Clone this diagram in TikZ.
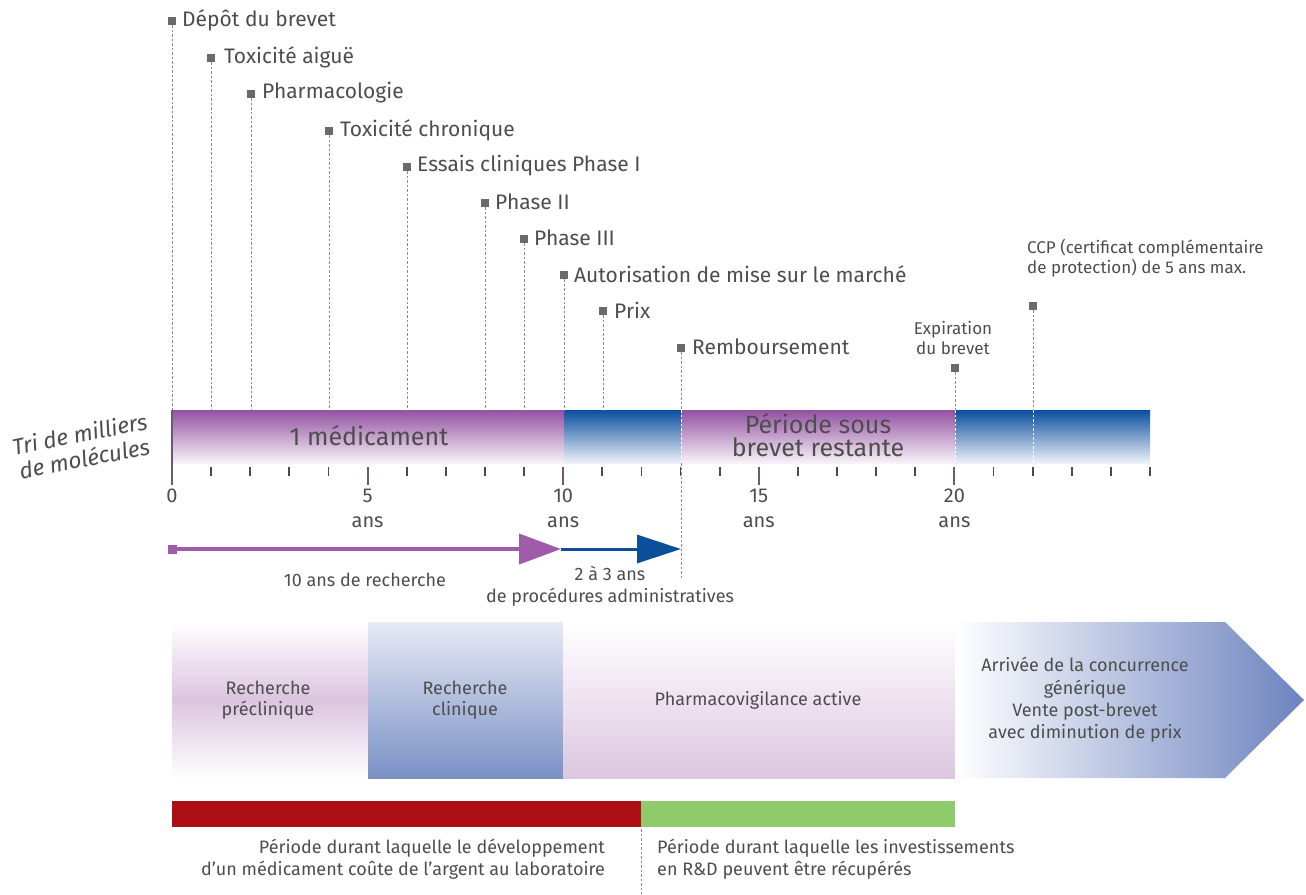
\documentclass[tikz,border=0pt]{standalone}
\usepackage{fontspec}
\setmainfont{Fira Sans}
\usetikzlibrary{arrows.meta}
\definecolor{txt}{HTML}{4D4D4D}
\definecolor{mkgrey}{HTML}{6A6A6A}
\definecolor{dashgrey}{HTML}{8A8A8A}
\definecolor{purtop}{HTML}{9252A1}
\definecolor{purbot}{HTML}{F8F2F9}
\definecolor{bluetop}{HTML}{0A4F9E}
\definecolor{bluebot}{HTML}{EEF2F9}
\definecolor{tickc}{HTML}{4A4A4A}
\definecolor{bigtick}{HTML}{6E5873}
\definecolor{arrpur}{HTML}{A05BAB}
\definecolor{arrblue}{HTML}{0B4F9B}
\definecolor{boxpur}{HTML}{DCC4DF}
\definecolor{boxbluetop}{HTML}{E6EAF4}
\definecolor{boxbluebot}{HTML}{7A91C6}
\definecolor{boxpink}{HTML}{DCC6E0}
\definecolor{arrowbox}{HTML}{6C83BF}
\definecolor{redbar}{HTML}{AE0E16}
\definecolor{greenbar}{HTML}{8FCB6A}
\tikzset{
  lab/.style={anchor=west, inner sep=0pt, font=\fontsize{21}{24}\selectfont},
  mk/.style={fill=mkgrey, minimum size=8pt, inner sep=0pt},
  dl/.style={draw=dashgrey, dash pattern=on 2.5pt off 2pt, line width=1pt},
  wdl/.style={draw=white, dash pattern=on 2.5pt off 2pt, line width=1pt},
  small/.style={inner sep=0pt, align=center, font=\fontsize{17}{19.5}\selectfont},
  mid/.style={inner sep=0pt, align=center, font=\fontsize{18}{21.5}\selectfont},
  yr/.style={inner sep=0pt, font=\fontsize{20}{22}\selectfont},
  big/.style={inner sep=0pt, align=center, font=\fontsize{25}{22.5}\selectfont},
  tri/.style={inner sep=0pt, align=center, rotate=11, font=\fontsize{22.5}{25}\selectfont\itshape},
}
\begin{document}
\begin{tikzpicture}[x=1pt,y=-1pt,text=txt]
\useasboundingbox (0,0) rectangle (1306,894);

% ---- main bar ----
\shade[top color=purtop, bottom color=purbot] (172,410) rectangle (564,463);
\shade[top color=bluetop, bottom color=bluebot] (564,410) rectangle (681,463);
\shade[top color=purtop, bottom color=purbot] (681,410) rectangle (955,463);
\shade[top color=bluetop, bottom color=bluebot] (955,410) rectangle (1150,463);
\draw[bigtick, line width=2pt] (172,410) -- (172,485);

\node[big] (med) at (369,436) {1 médicament};
\node[big] (pbr) at (818,435) {Période sous\\brevet restante};
\node[tri] (tri) at (82,446) {Tri de milliers\\de molécules};

% ---- ticks ----
\foreach \t in {1,...,25}{
  \pgfmathsetmacro\xx{172+39.12*\t}
  \draw[tickc, line width=1.8pt] (\xx,467) -- (\xx,476);
}
\foreach \t in {5,10,15,20}{
  \pgfmathsetmacro\xx{172+39.12*\t}
  \draw[bigtick, line width=2pt] (\xx,467) -- (\xx,485);
  \node[yr] (y\t) at (\xx,496) {\t};
  \node[yr] (a\t) at (\xx,522) {ans};
}
\node[yr] (y0) at (172,496) {0};

% ---- milestones ----
\node[mk] (m0) at (172,21) {};   \node[lab] (l0) at (182,20) {Dépôt du brevet};
\node[mk] (m1) at (211,58) {};   \node[lab] (l1) at (224,57) {Toxicité aiguë};
\node[mk] (m2) at (251,94) {};   \node[lab] (l2) at (262,93) {Pharmacologie};
\node[mk] (m4) at (329,131) {};  \node[lab] (l4) at (340,130) {Toxicité chronique};
\node[mk] (m6) at (407,167) {};  \node[lab] (l6) at (417,166) {Essais cliniques Phase I};
\node[mk] (m8) at (485,203) {};  \node[lab] (l8) at (495,202) {Phase II};
\node[mk] (m9) at (524,239) {};  \node[lab] (l9) at (534,238) {Phase III};
\node[mk] (m10) at (564,275) {}; \node[lab] (l10) at (574,274) {Autorisation de mise sur le marché};
\node[mk] (m11) at (603,311) {}; \node[lab] (l11) at (614,310) {Prix};
\node[mk] (m13) at (681,348) {}; \node[lab] (l13) at (692,347) {Remboursement};
\node[mk] (m20) at (955,368) {};
\node[small] (l20) at (953,338) {Expiration\\du brevet};
\node[mk] (m22) at (1033,306) {};
\node[small, anchor=north west, align=left] (l22) at (1027,239) {CCP (certificat complémentaire\\de protection) de 5 ans max.};

\foreach \m/\x in {m0/172,m1/211,m2/251,m4/329,m6/407,m8/485,m9/524,m10/564,m11/603,m13/681,m20/955,m22/1033}{
  \coordinate (b\m) at (\x,410);
  \draw[dl] (\m) -- (b\m);
}
\coordinate (t13) at (681,463);
\coordinate (e13) at (681,580);
\coordinate (t20) at (955,463);
\coordinate (t22) at (1033,463);
\draw[wdl] (bm13) -- (t13);
\draw[wdl] (bm20) -- (t20);
\draw[wdl] (bm22) -- (t22);
\draw[dl] (t13) -- (e13);

% ---- arrows ----
\node[fill=arrpur, minimum size=9pt, inner sep=0pt] (as) at (172,549) {};
\coordinate (a10) at (561,549);
\coordinate (a13) at (681,549);
\draw[arrpur, line width=4pt, -{Triangle[length=42pt,width=30pt]}] (as.center) -- (a10);
\draw[arrblue, line width=3pt, -{Triangle[length=44pt,width=28pt]}] (a10) -- (a13);
\node[mid] (rech) at (365,580) {10 ans de recherche};
\node[mid] (adm) at (610,586) {2 à 3 ans\\de procédures administratives};

% ---- lower boxes ----
\shade[top color=white, bottom color=white, middle color=boxpur] (172,622) rectangle (368,778);
\shade[top color=boxbluetop, bottom color=boxbluebot] (368,622) rectangle (563,778);
\shade[top color=white, bottom color=boxpink] (563,622) rectangle (955,778);
\shade[left color=white, right color=arrowbox] (955,622) -- (1225,622) -- (1304,700) -- (1225,778) -- (955,778) -- cycle;
\node[mid] (b1) at (268,700) {Recherche\\préclinique};
\node[mid] (b2) at (465,700) {Recherche\\clinique};
\node[mid] (b3) at (758,700) {Pharmacovigilance active};
\node[mid, font=\fontsize{18}{22.3}\selectfont] (b4) at (1085,700) {Arrivée de la concurrence\\générique\\Vente post-brevet\\avec diminution de prix};

% ---- cost bars ----
\fill[redbar] (172,801) rectangle (641,827);
\fill[greenbar] (641,801) rectangle (955,827);
\coordinate (s1) at (641,829);
\coordinate (s2) at (641,894);
\draw[dl] (s1) -- (s2);
\node[mid, anchor=north east, align=right] (c1) at (605,839) {Période durant laquelle le développement\\d'un médicament coûte de l'argent au laboratoire};
\node[mid, anchor=north west, align=left] (c2) at (657,839) {Période durant laquelle les investissements\\en R\&D peuvent être récupérés};
\end{tikzpicture}
\end{document}
